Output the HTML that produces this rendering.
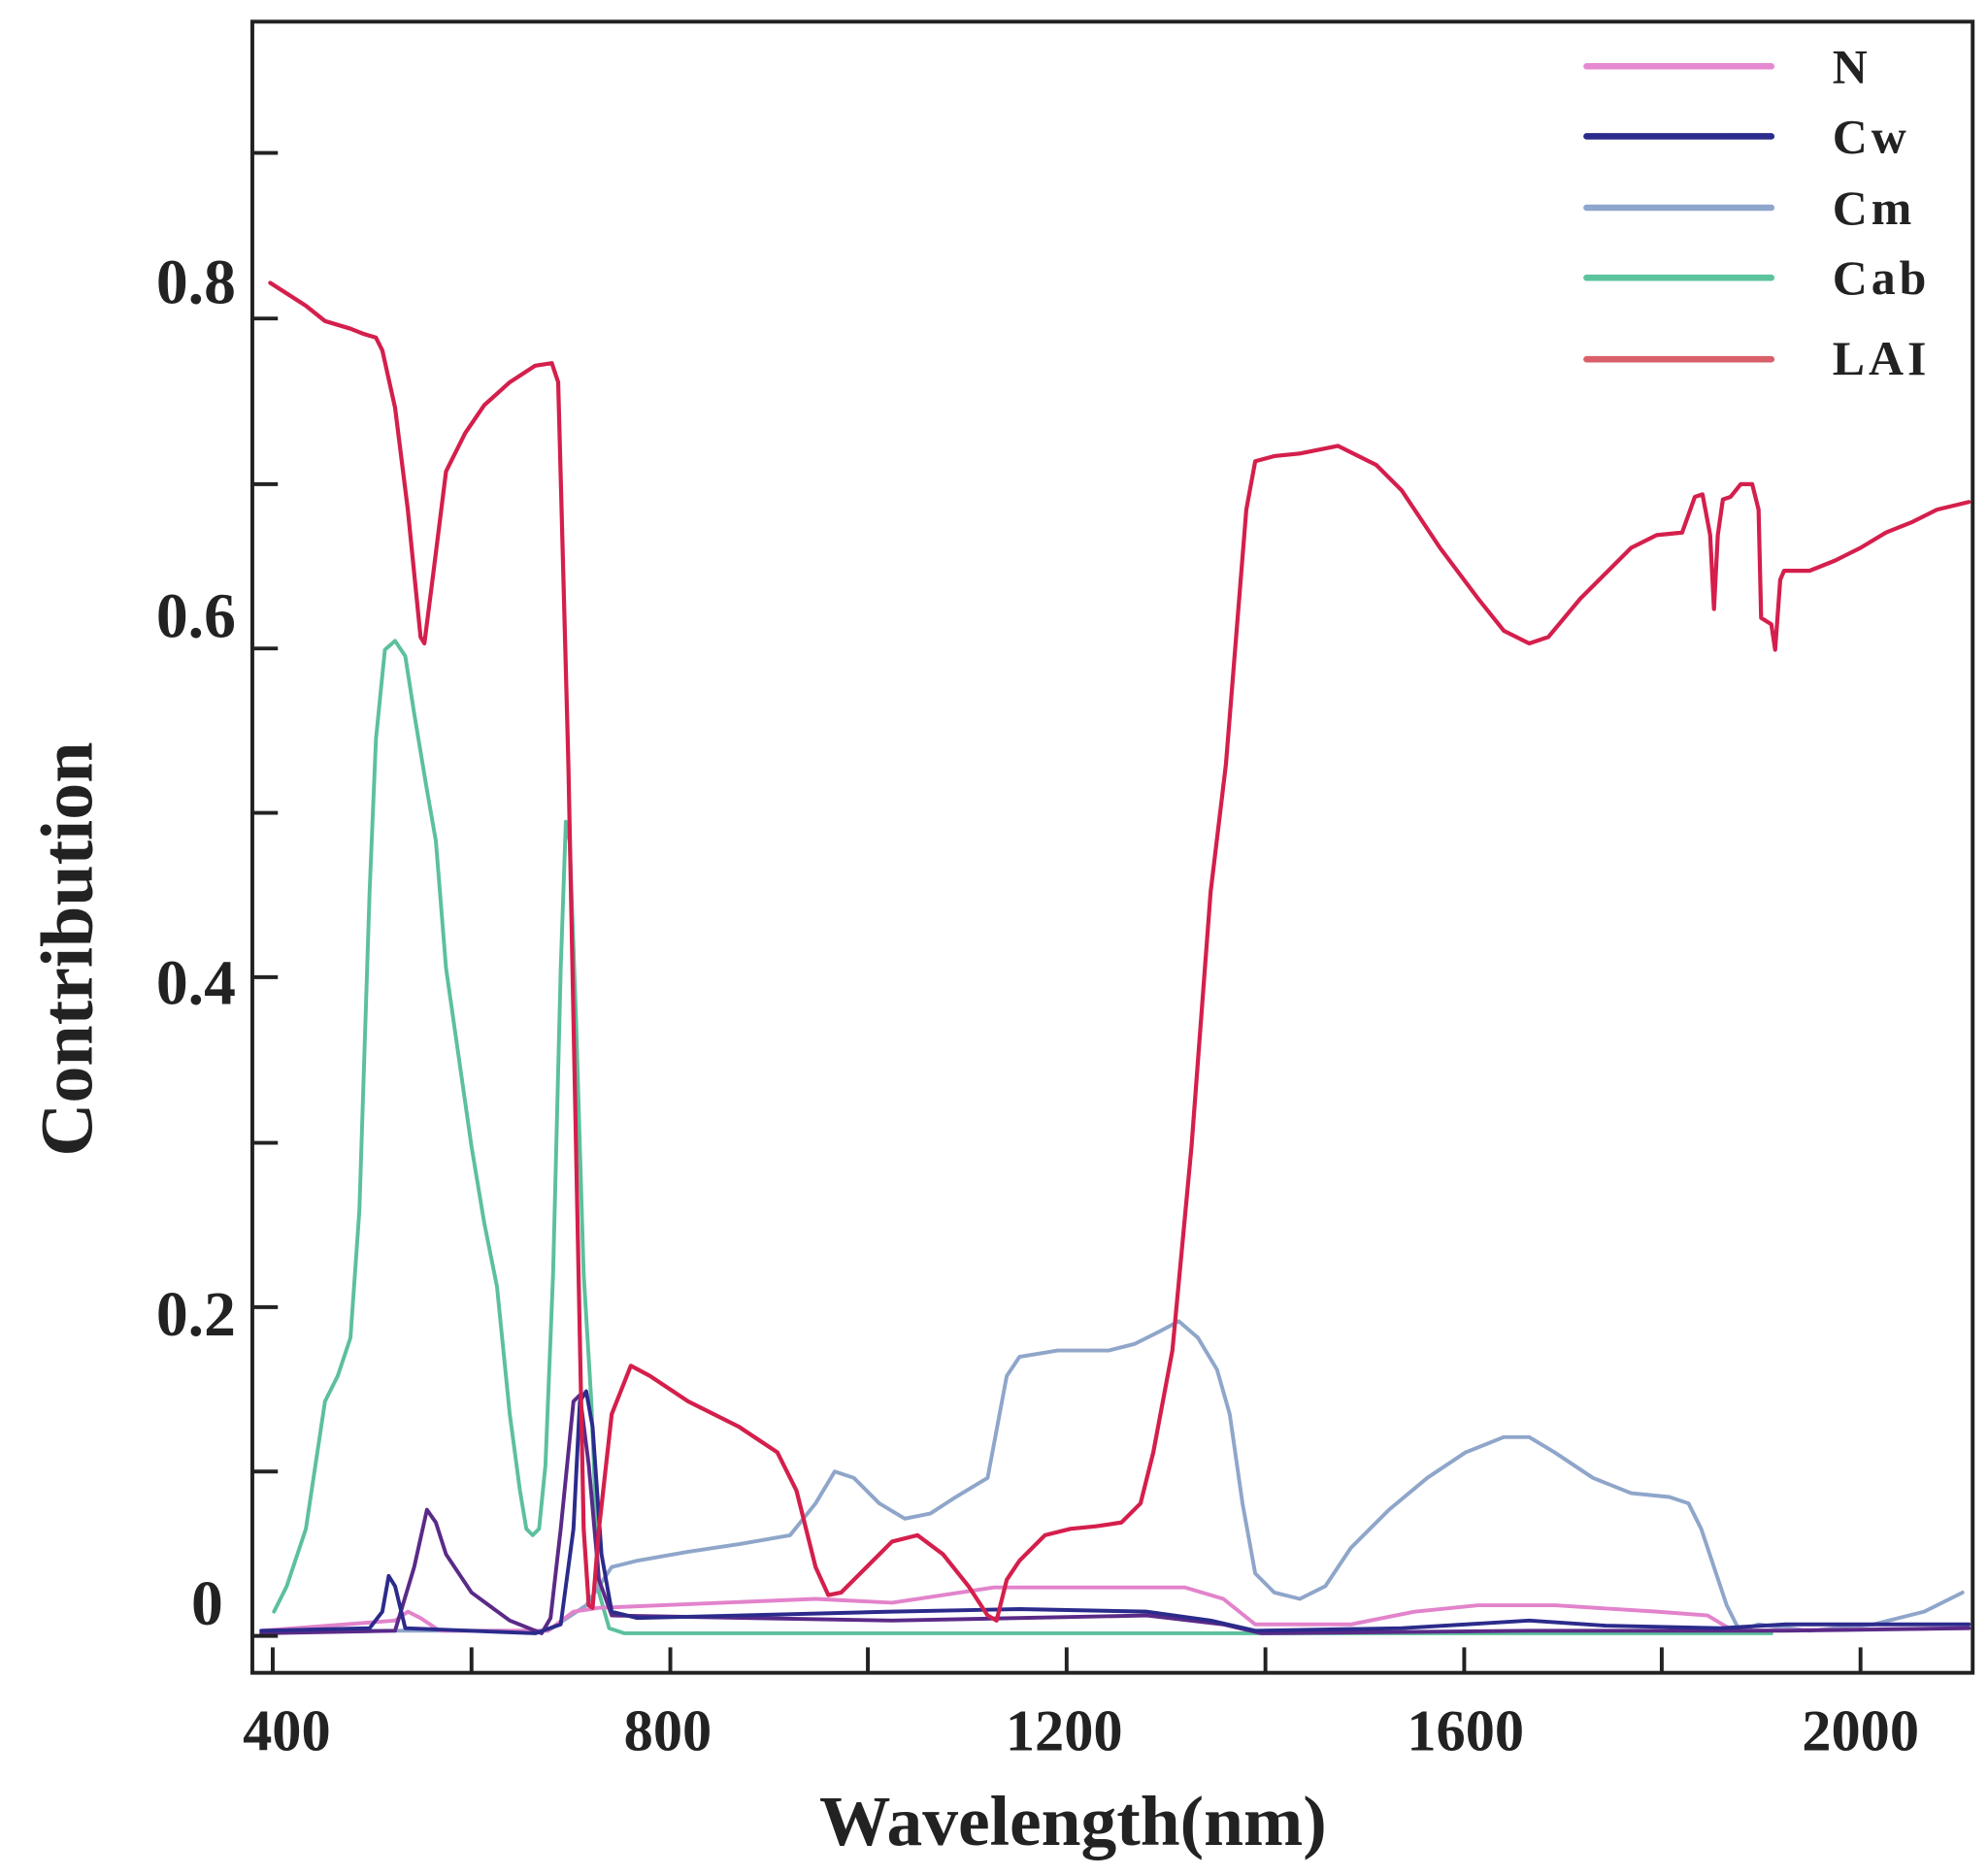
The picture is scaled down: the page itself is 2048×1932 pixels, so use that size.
<!DOCTYPE html>
<html><head><meta charset="utf-8"><style>html,body{margin:0;padding:0;background:#fff}svg{display:block}</style></head>
<body>
<svg width="2048" height="1932" viewBox="0 0 1560 1471.7" xmlns="http://www.w3.org/2000/svg">
<rect width="1560" height="1472" fill="#fff"/>
<g fill="none" stroke-linejoin="round" stroke-linecap="round">
<!-- Cab -->
<polyline stroke="#5cc09c" stroke-width="3" points="215,1265 225,1245 240,1200 255,1100 265,1080 275,1050 282,950 290,700 295,580 302,510 310,503 318,515 325,560 335,620 342,660 350,760 360,830 370,900 380,960 390,1010 395,1060 400,1110 408,1170 413,1200 418,1205 423,1200 428,1150 434,1000 440,760 444,645 447,660 452,800 458,1000 464,1100 470,1250 478,1278 490,1282 1390,1282"/>
<!-- Cm -->
<polyline stroke="#8fa6ca" stroke-width="3" points="210,1280 430,1280 460,1260 480,1230 500,1225 540,1218 580,1212 620,1205 640,1180 655,1155 670,1160 690,1180 710,1192 730,1188 750,1175 775,1160 790,1080 800,1065 830,1060 870,1060 890,1055 910,1045 925,1037 940,1050 955,1075 965,1110 975,1180 985,1235 1000,1250 1020,1255 1040,1245 1060,1215 1090,1185 1120,1160 1150,1140 1180,1128 1200,1128 1220,1140 1250,1160 1280,1172 1310,1175 1325,1180 1335,1200 1345,1230 1355,1260 1365,1280 1380,1275 1420,1280 1470,1275 1510,1265 1540,1250"/>
<!-- N -->
<polyline stroke="#e283cb" stroke-width="3" points="205,1280 310,1272 320,1265 330,1270 345,1280 430,1280 450,1265 470,1262 640,1255 700,1258 780,1246 930,1246 960,1255 985,1275 1060,1275 1110,1265 1160,1260 1220,1260 1300,1265 1340,1268 1360,1280 1545,1278"/>
<!-- purple -->
<polyline stroke="#5a2a88" stroke-width="3" points="205,1282 310,1280 325,1230 335,1185 342,1195 350,1220 370,1250 400,1272 425,1282 432,1270 440,1200 450,1100 455,1095 462,1150 470,1240 480,1268 700,1272 900,1268 960,1275 990,1282 1200,1280 1400,1280 1545,1278"/>
<!-- Cw -->
<polyline stroke="#2b2b8c" stroke-width="3" points="205,1280 290,1278 300,1265 305,1237 310,1245 318,1278 420,1282 440,1275 450,1200 455,1100 460,1092 465,1120 472,1220 480,1265 500,1270 700,1265 800,1263 900,1265 950,1272 985,1280 1100,1278 1200,1272 1260,1276 1350,1278 1400,1275 1545,1275"/>
<!-- LAI -->
<polyline stroke="#d41f4c" stroke-width="3.2" points="212,222 240,240 255,252 275,258 285,262 295,265 300,275 310,320 320,400 330,500 333,505 340,450 350,370 365,340 380,318 400,300 420,287 433,285 438,300 442,450 446,600 452,900 458,1200 462,1260 465,1262 470,1200 480,1110 495,1072 510,1080 540,1100 580,1120 610,1140 625,1170 640,1230 650,1252 660,1250 680,1230 700,1210 720,1205 740,1220 760,1245 775,1268 782,1272 790,1240 800,1225 820,1205 840,1200 860,1198 880,1195 895,1180 905,1140 920,1060 935,900 950,700 962,600 970,500 978,400 985,362 1000,358 1020,356 1050,350 1080,365 1100,385 1130,430 1160,470 1180,495 1200,505 1215,500 1240,470 1260,450 1280,430 1300,420 1320,418 1330,390 1336,388 1342,420 1345,478 1348,420 1352,392 1358,390 1362,385 1366,380 1375,380 1380,400 1382,485 1390,490 1393,510 1397,455 1400,448 1420,448 1440,440 1460,430 1480,418 1500,410 1520,400 1545,394"/>
</g>
<!-- axes -->
<rect x="198" y="17" width="1350" height="1296" fill="none" stroke="#222" stroke-width="3"/>
<g stroke="#222" stroke-width="3">
<line x1="198" y1="120" x2="218" y2="120"/><line x1="198" y1="250" x2="218" y2="250"/><line x1="198" y1="380" x2="218" y2="380"/><line x1="198" y1="509" x2="218" y2="509"/><line x1="198" y1="638" x2="218" y2="638"/><line x1="198" y1="767" x2="218" y2="767"/><line x1="198" y1="897" x2="218" y2="897"/><line x1="198" y1="1026" x2="218" y2="1026"/><line x1="198" y1="1155" x2="218" y2="1155"/><line x1="198" y1="1284" x2="218" y2="1284"/>
<line x1="214" y1="1313" x2="214" y2="1293"/><line x1="370" y1="1313" x2="370" y2="1293"/><line x1="526" y1="1313" x2="526" y2="1293"/><line x1="681" y1="1313" x2="681" y2="1293"/><line x1="837" y1="1313" x2="837" y2="1293"/><line x1="993" y1="1313" x2="993" y2="1293"/><line x1="1149" y1="1313" x2="1149" y2="1293"/><line x1="1304" y1="1313" x2="1304" y2="1293"/><line x1="1460" y1="1313" x2="1460" y2="1293"/>
</g>
<g font-family="Liberation Serif, serif" font-weight="bold" fill="#222" font-size="50" text-anchor="end">
<text x="185" y="238">0.8</text><text x="185" y="500">0.6</text><text x="185" y="788">0.4</text><text x="185" y="1048">0.2</text><text x="175" y="1275">0</text>
</g>
<g font-family="Liberation Serif, serif" font-weight="bold" fill="#222" font-size="46" text-anchor="middle">
<text x="225" y="1374">400</text><text x="524" y="1374">800</text><text x="835" y="1374">1200</text><text x="1150" y="1374">1600</text><text x="1460" y="1374">2000</text>
<text x="842" y="1448" font-size="56">Wavelength(nm)</text>
<text transform="translate(72,745) rotate(-90)" font-size="58">Contribution</text>
</g>
<!-- legend -->
<g stroke-width="5" stroke-linecap="round">
<line x1="1245" y1="52" x2="1390" y2="52" stroke="#e58ad0"/>
<line x1="1245" y1="107" x2="1390" y2="107" stroke="#2b2b8c"/>
<line x1="1245" y1="163" x2="1390" y2="163" stroke="#8ea6cc"/>
<line x1="1245" y1="218" x2="1390" y2="218" stroke="#5cc49c"/>
<line x1="1245" y1="282" x2="1390" y2="282" stroke="#d9606a"/>
</g>
<g font-family="Liberation Serif, serif" font-weight="bold" fill="#222" font-size="38" letter-spacing="3">
<text x="1438" y="65">N</text><text x="1438" y="120">Cw</text><text x="1438" y="176">Cm</text><text x="1438" y="231">Cab</text><text x="1438" y="294">LAI</text>
</g>
</svg>
</body></html>
